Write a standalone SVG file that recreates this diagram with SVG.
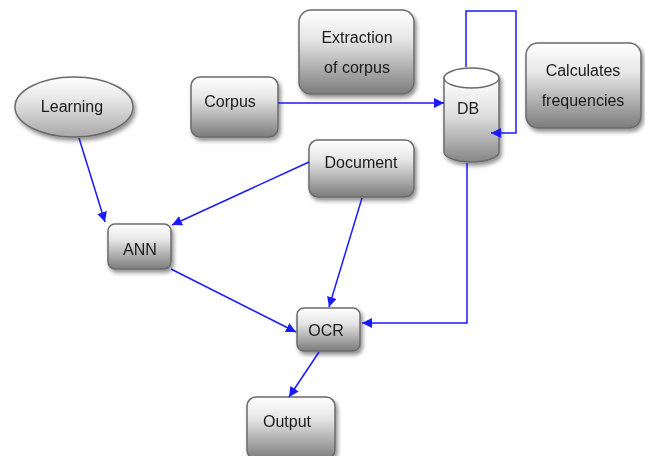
<svg xmlns="http://www.w3.org/2000/svg" width="645" height="456" viewBox="0 0 645 456">
  <defs>
    <linearGradient id="boxFill" x1="0" y1="0" x2="0" y2="1">
      <stop offset="0" stop-color="#ffffff"/>
      <stop offset="0.35" stop-color="#e6e6e6"/>
      <stop offset="1" stop-color="#7c7c7c"/>
    </linearGradient>
    <linearGradient id="ovalFill" x1="0" y1="0" x2="0" y2="1">
      <stop offset="0" stop-color="#ffffff"/>
      <stop offset="0.4" stop-color="#e4e4e4"/>
      <stop offset="1" stop-color="#a8a8a8"/>
    </linearGradient>
    <linearGradient id="cylFill" x1="0" y1="0" x2="0" y2="1">
      <stop offset="0" stop-color="#ffffff"/>
      <stop offset="0.45" stop-color="#dedede"/>
      <stop offset="1" stop-color="#868686"/>
    </linearGradient>
    <filter id="shadow" x="-20%" y="-20%" width="150%" height="150%">
      <feGaussianBlur in="SourceAlpha" stdDeviation="2"/>
      <feOffset dx="1.5" dy="2.5" result="b"/>
      <feComponentTransfer><feFuncA type="linear" slope="0.45"/></feComponentTransfer>
      <feMerge><feMergeNode/><feMergeNode in="SourceGraphic"/></feMerge>
    </filter>
    <marker id="arrow" viewBox="0 0 10 10" refX="10" refY="5" markerWidth="10" markerHeight="10" markerUnits="userSpaceOnUse" orient="auto">
      <path d="M0,0 L10,5 L0,10 z" fill="#1a1aff"/>
    </marker>
  </defs>
  <style>
    .box { fill: url(#boxFill); stroke: #6b6b6b; stroke-width: 1.5; }
    .oval { fill: url(#ovalFill); stroke: #6b6b6b; stroke-width: 1.5; }
    .label { font-family: "Liberation Sans", Arial, sans-serif; font-size: 16px; fill: #1a1a1a; text-anchor: middle; dominant-baseline: central; }
    .edge { fill: none; stroke: #1a1aff; stroke-width: 1.5; marker-end: url(#arrow); }
  </style>

  <rect width="645" height="456" fill="#ffffff"/>

  <g id="learning" filter="url(#shadow)">
    <ellipse class="oval" cx="74" cy="107" rx="59" ry="30"/>
    <text class="label" x="72" y="106">Learning</text>
  </g>

  <g id="corpus" filter="url(#shadow)">
    <rect class="box" x="191" y="77" width="87" height="60" rx="9"/>
    <text class="label" x="230" y="101">Corpus</text>
  </g>

  <g id="extraction" filter="url(#shadow)">
    <rect class="box" x="299" y="10" width="115" height="84" rx="12"/>
    <text class="label" x="357" y="37">Extraction</text>
    <text class="label" x="357" y="67">of corpus</text>
  </g>

  <g id="db" filter="url(#shadow)">
    <path d="M444,78 L444,152 A27.5,10 0 0 0 499,152 L499,78 Z" fill="url(#cylFill)" stroke="#6b6b6b" stroke-width="1.5"/>
    <ellipse cx="471.5" cy="78" rx="27.5" ry="10" fill="#ffffff" stroke="#6b6b6b" stroke-width="1.5"/>
    <text class="label" x="468" y="108">DB</text>
  </g>

  <g id="frequencies" filter="url(#shadow)">
    <rect class="box" x="526" y="43" width="115" height="85" rx="12"/>
    <text class="label" x="583" y="70">Calculates</text>
    <text class="label" x="583" y="100">frequencies</text>
  </g>

  <g id="document" filter="url(#shadow)">
    <rect class="box" x="309" y="140" width="105" height="57" rx="9"/>
    <text class="label" x="361" y="162">Document</text>
  </g>

  <g id="ann" filter="url(#shadow)">
    <rect class="box" x="108" y="224" width="63" height="45" rx="7"/>
    <text class="label" x="140" y="249">ANN</text>
  </g>

  <g id="ocr" filter="url(#shadow)">
    <rect class="box" x="297" y="308" width="63" height="43" rx="7"/>
    <text class="label" x="326" y="330">OCR</text>
  </g>

  <g id="output" filter="url(#shadow)">
    <rect class="box" x="247" y="397" width="88" height="62" rx="9"/>
    <text class="label" x="287" y="421">Output</text>
  </g>

  <!-- connectors, drawn over the nodes so the DB loop tip shows on the cylinder -->
  <g id="connectors">
    <path class="edge" d="M278,103 L444,103"/>
    <path class="edge" d="M466,67 L466,11 L516,11 L516,133 L491,133"/>
    <path class="edge" d="M79,138 L105,222"/>
    <path class="edge" d="M309,162 L172,225"/>
    <path class="edge" d="M362,198 L329,307"/>
    <path class="edge" d="M171,269 L296,332"/>
    <path class="edge" d="M467,163 L467,323 L362,323"/>
    <path class="edge" d="M319,352 L289,397"/>
  </g>
</svg>
